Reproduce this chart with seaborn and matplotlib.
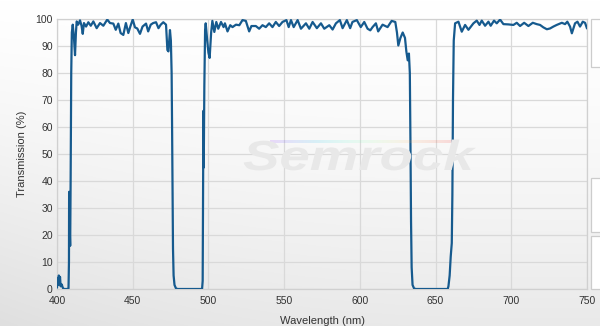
import numpy as np
import pandas as pd
import matplotlib
matplotlib.use("Agg")
import matplotlib.pyplot as plt
import seaborn as sns
from matplotlib.patches import Rectangle, PathPatch
from matplotlib.textpath import TextPath
from matplotlib.font_manager import FontProperties
from matplotlib.transforms import Affine2D

# ---------------- data ----------------
wl_start = [400.0, 400.4, 400.8, 401.2, 401.6, 402.0, 402.4, 402.8, 403.2, 403.6, 404.0, 404.5,
            405.5, 406.5, 407.6, 407.9, 408.0, 408.3, 408.5, 408.7, 409.0, 409.4, 409.8]
t_start = [0.5, 4.0, 1.5, 5.0, 3.0, 4.5, 1.0, 1.8, 1.6, 0.8, 0.3, 0.0,
           0.0, 0.0, 0.2, 10.0, 36.0, 35.0, 20.0, 16.0, 40.0, 80.0, 95.0]

wl_band1 = [410.4, 411.2, 411.9, 412.5, 413.0, 414.0, 415.2, 416.2, 417.0, 417.8, 419.2, 420.7,
            422.3, 424.0, 425.0, 426.2, 428.4, 430.6, 433.2, 435.0, 437.2, 438.8, 440.5, 442.0,
            443.8, 445.5, 447.1, 448.6, 450.0, 451.5, 453.0, 454.8, 456.5, 458.8, 460.2, 461.9,
            463.5, 465.4, 467.0, 468.5, 470.2, 472.0, 472.9, 473.6, 474.6, 475.2, 475.7, 476.0,
            476.3, 476.6, 477.0, 477.6, 478.5]
t_band1 = [97.9, 93.0, 86.6, 95.0, 99.1, 97.9, 99.5, 97.5, 94.5, 98.5, 97.2, 98.8,
           97.5, 99.1, 98.0, 96.6, 98.5, 97.5, 99.8, 98.5, 98.3, 96.0, 98.3, 94.8,
           94.1, 98.5, 94.8, 97.5, 99.8, 96.9, 96.5, 94.5, 97.2, 98.3, 95.4, 97.9,
           98.5, 98.8, 96.6, 97.9, 98.8, 97.9, 88.5, 88.0, 95.9, 92.0, 79.9, 60.0,
           35.0, 15.0, 5.0, 1.5, 0.3]

wl_block1 = [479.5, 487.0, 495.8]
t_block1 = [0.0, 0.0, 0.0]

wl_band2 = [496.2, 496.5, 496.7, 496.9, 497.3, 497.8, 498.2, 499.2, 500.0, 500.8, 501.8, 502.6,
            503.9, 505.2, 506.5, 508.3, 510.0, 510.9, 512.6, 514.4, 515.9, 518.2, 520.4, 522.5,
            524.7, 526.9, 528.4, 531.3, 533.5, 535.7, 537.9, 540.1, 542.3, 544.5, 546.7, 548.9,
            551.5, 553.0, 554.5, 556.3, 558.9, 561.1, 564.4, 566.6, 568.8, 571.6, 574.3, 576.5,
            579.8, 582.0, 584.2, 586.8, 588.6, 591.4, 593.6, 595.1, 598.0, 600.6, 602.9, 605.1,
            606.9, 608.4, 610.6, 612.1, 615.0, 618.3, 621.0, 623.4, 624.5, 625.4, 626.8, 628.3,
            629.8, 630.7, 631.6, 632.4, 633.0, 633.4, 633.8, 634.2, 634.8, 635.8]
t_band2 = [3.0, 42.0, 66.0, 45.0, 75.0, 96.0, 98.4, 92.0, 87.5, 85.6, 95.0, 99.3,
           95.2, 98.9, 96.4, 98.9, 97.0, 98.4, 95.4, 97.7, 97.0, 97.9, 97.7, 99.6,
           99.3, 95.4, 97.4, 97.4, 96.4, 97.7, 97.0, 98.4, 97.0, 98.9, 97.4, 98.9,
           99.6, 97.0, 99.6, 97.0, 99.6, 96.4, 98.4, 96.4, 98.9, 96.6, 98.4, 96.4,
           97.7, 96.1, 98.4, 99.6, 96.6, 99.6, 96.6, 98.9, 99.6, 97.0, 98.9, 96.4,
           95.8, 97.0, 98.4, 95.4, 97.9, 97.0, 99.3, 98.9, 95.0, 90.2, 93.0, 95.0,
           93.0, 88.0, 84.7, 87.2, 80.0, 55.0, 25.0, 8.0, 1.5, 0.2]

wl_block2 = [637.0, 648.0, 658.0]
t_block2 = [0.0, 0.0, 0.0]

wl_band3 = [658.5, 659.3, 660.0, 660.7, 661.1, 661.5, 662.0, 662.9, 665.1, 667.3, 669.5, 671.7,
            675.0, 677.2, 679.0, 680.5, 682.7, 684.9, 686.4, 688.6, 690.4, 692.6, 694.8, 698.1,
            701.4, 703.6, 705.8, 708.5, 711.3, 714.2, 716.8, 719.0, 721.2, 723.5, 725.6, 727.8,
            730.0, 733.4, 735.5, 737.0, 738.8, 740.0, 742.1, 743.7, 745.4, 747.2, 748.7, 750.0]
t_band3 = [1.0, 5.0, 12.0, 17.0, 35.0, 70.0, 92.0, 98.4, 99.0, 95.3, 97.8, 96.0,
           98.4, 99.4, 97.8, 99.4, 97.5, 99.0, 97.5, 99.4, 98.4, 99.8, 98.1, 98.0,
           97.8, 98.6, 97.4, 98.6, 97.4, 98.6, 98.1, 97.8, 96.9, 96.2, 96.5, 97.2,
           97.8, 98.6, 98.1, 99.0, 97.2, 94.7, 98.4, 99.0, 97.2, 99.0, 98.6, 96.5]

x_ticks = [400, 450, 500, 550, 600, 650, 700, 750]
y_ticks = [0, 10, 20, 30, 40, 50, 60, 70, 80, 90, 100]
x_label = "Wavelength (nm)"
y_label = "Transmission (%)"
watermark = "Semrock"

df = pd.DataFrame({
    "wavelength": wl_start + wl_band1 + wl_block1 + wl_band2 + wl_block2 + wl_band3,
    "transmission": t_start + t_band1 + t_block1 + t_band2 + t_block2 + t_band3,
})

# ---------------- style ----------------
sns.set_style("white")
plt.rcParams["font.family"] = ["Liberation Sans", "DejaVu Sans"]

W, H, DPI = 600, 326, 100
fig = plt.figure(figsize=(W / DPI, H / DPI), dpi=DPI)
fig.patch.set_facecolor("white")

# background gradient (figure level)
bg = fig.add_axes([0, 0, 1, 1], zorder=-10)
yy, xx = np.mgrid[0:1:200j, 0:1:300j]
shade = 1.0 - 0.085 * yy ** 1.5 - 0.04 * (1 - xx) ** 3 * yy
bg.imshow(np.dstack([shade, shade, shade]), aspect="auto", extent=[0, 1, 1, 0])
bg.set_axis_off()

left, right, top, bottom = 57, 587, 19, 289
ax = fig.add_axes([left / W, 1 - bottom / H, (right - left) / W, (bottom - top) / H])
ax.set_facecolor("white")

# watermark (stretched bold italic text) + rainbow stripe
fp = FontProperties(family="Liberation Sans", weight="bold", style="italic")
tp = TextPath((0, 0), watermark, size=42, prop=fp)
wm = PathPatch(tp, facecolor="#e8e8e8", edgecolor="none",
               transform=Affine2D().scale(1.3, 1.0).translate(243, H - 170))
fig.add_artist(wm)
wm.set_zorder(0.5)
stripe = fig.add_axes([270 / W, 1 - 143 / H, 185 / W, 3 / H], zorder=0)
grad = np.linspace(0.1, 1.0, 256)[None, :]
stripe.imshow(grad, aspect="auto", cmap="rainbow", alpha=0.13)
stripe.set_axis_off()

# line
sns.lineplot(data=df, x="wavelength", y="transmission", ax=ax, color="#165a8e",
             linewidth=1.6, estimator=None, sort=True, zorder=3)

ax.set_xlim(400, 750)
ax.set_ylim(0, 100)
ax.set_xticks(x_ticks)
ax.set_yticks(y_ticks)
ax.grid(True, color="#d9d9d9", linewidth=0.9)
ax.set_axisbelow(True)
for s in ax.spines.values():
    s.set_color("#d0d0d0")
    s.set_linewidth(0.9)
ax.tick_params(axis="x", length=0, labelsize=7.5, colors="#333333", pad=5)
ax.tick_params(axis="y", length=0, labelsize=7.5, colors="#333333", pad=3)
ax.set_xlabel(x_label, fontsize=8, color="#333333", labelpad=7)
ax.set_ylabel(y_label, fontsize=8, color="#333333", labelpad=6)
ax.patch.set_alpha(0.0)

# clipped side panels on the right
for (y0, y1) in [(19, 67), (178, 232), (236, 289)]:
    r = Rectangle((591 / W, 1 - y1 / H), 20 / W, (y1 - y0) / H, transform=fig.transFigure,
                  facecolor="white", edgecolor="#cccccc", linewidth=0.9)
    fig.add_artist(r)

fig.savefig("out.png", dpi=DPI)
